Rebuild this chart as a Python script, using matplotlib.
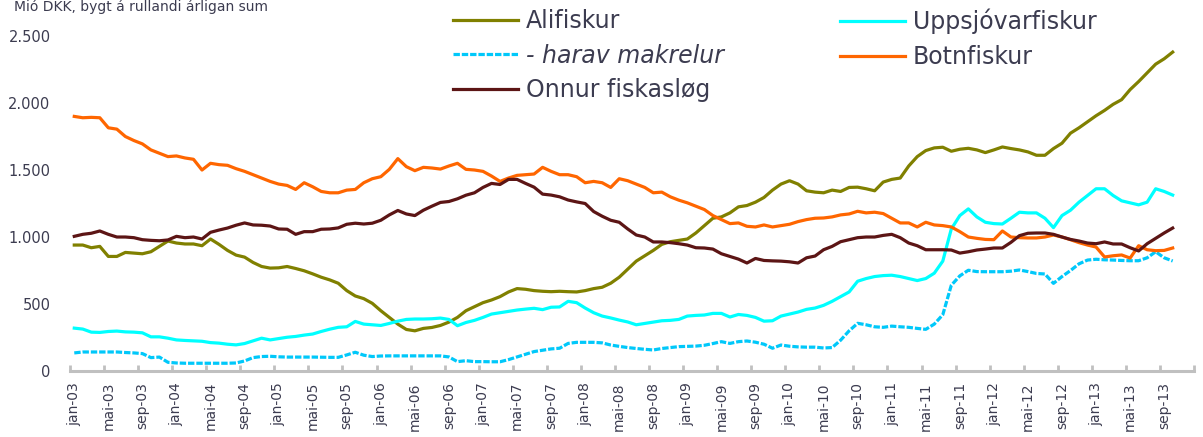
import matplotlib
matplotlib.use('Agg')
import matplotlib.pyplot as plt
from matplotlib.ticker import FixedLocator, FuncFormatter, NullFormatter
import numpy as np

# Monthly values, jan-03 .. okt-13 (Mió DKK, rolling annual sum)
months = ['jan', 'feb', 'mar', 'apr', 'mai', 'jun', 'jul', 'aug', 'sep', 'okt', 'nov', 'des']
years = list(range(3, 14))

alifiskur = [
    940, 940, 920, 930, 855, 855, 885, 880, 875, 890,
    930, 970, 955, 948, 948, 935, 985, 945, 900, 865,
    850, 810, 780, 768, 770, 780, 765, 748, 725, 700,
    680, 655, 600, 560, 540, 505, 450, 400, 350, 310,
    300, 318, 325, 340, 365, 400, 450, 480, 510, 530,
    555, 590, 615, 610, 600, 595, 592, 595, 592, 590,
    600, 615, 625, 655, 700, 760, 820, 860, 900, 945,
    965, 975, 985, 1030, 1085, 1140, 1150, 1180, 1225, 1235,
    1260, 1295, 1350, 1395, 1420, 1395, 1345, 1335, 1330, 1350,
    1340, 1370, 1372, 1360, 1345, 1410, 1430, 1440, 1530, 1600,
    1645, 1665, 1670, 1640, 1655, 1662, 1650, 1630, 1650, 1672,
    1660, 1650, 1635, 1610, 1610, 1660, 1700, 1775, 1815, 1860,
    1905, 1945, 1990, 2025, 2100, 2160, 2225, 2290, 2330, 2380,
]

uppsjovarfiskur = [
    320, 313, 290, 288, 295, 298, 292, 290, 285, 255,
    255, 245, 232, 228, 225, 222, 212, 208, 200, 195,
    205, 225, 245, 232, 242, 252, 258, 268, 276, 295,
    312, 326, 330, 370, 350, 345, 340, 355, 372, 385,
    388, 388, 390, 395, 385, 338, 362, 378, 400, 425,
    435, 445, 455, 462, 468, 458, 476, 478, 520, 510,
    470, 435, 410, 396, 380, 366, 345, 355, 365, 375,
    378, 385, 410, 415, 418, 430, 430, 403, 422, 415,
    400, 372, 375, 410, 425, 440, 460, 470, 490, 520,
    555, 590, 670, 690, 705, 712, 715, 705, 690, 675,
    690, 730, 820, 1060, 1160, 1210, 1150, 1110, 1100, 1097,
    1140, 1185, 1180, 1180, 1140, 1070, 1160, 1200, 1260, 1310,
    1360, 1360, 1310, 1270, 1255, 1240, 1260, 1360, 1340, 1313,
]

makrelur = [
    135, 142, 142, 142, 142, 142, 138, 135, 130, 100,
    104, 65, 60, 58, 58, 58, 58, 58, 58, 60,
    75, 100, 108, 110, 106, 104, 104, 104, 104, 103,
    102, 102, 120, 140, 118, 108, 112, 113, 113, 113,
    113, 113, 113, 113, 105, 70, 77, 70, 70, 69,
    69, 85, 105, 125, 145, 155, 165, 170, 206, 214,
    214, 214, 210, 194, 184, 175, 168, 162, 157, 168,
    175, 182, 184, 186, 192, 205, 219, 206, 219, 224,
    215, 200, 170, 194, 185, 180, 178, 178, 172, 175,
    230, 300, 356, 345, 330, 326, 335, 330, 326, 318,
    311, 350, 420, 640, 710, 752, 742, 741, 741, 741,
    745, 754, 742, 728, 724, 654, 705, 750, 800, 828,
    834, 830, 828, 825, 823, 823, 845, 890, 845, 821,
]

botnfiskur = [
    1900, 1890, 1893, 1890, 1815, 1805, 1750, 1720, 1695, 1650,
    1625, 1600, 1605, 1590, 1580, 1500, 1550, 1540, 1535, 1510,
    1490, 1465, 1440, 1415, 1395, 1385, 1355, 1405, 1375, 1340,
    1330, 1330, 1350, 1355, 1405, 1435, 1450, 1505, 1585, 1525,
    1495, 1520, 1515, 1507, 1530, 1550, 1505, 1500, 1490, 1455,
    1415, 1440, 1460, 1465, 1470, 1520, 1490, 1465, 1465, 1450,
    1405, 1415, 1405, 1370, 1435, 1420, 1395, 1370, 1330, 1335,
    1300, 1275, 1255, 1230, 1205, 1160, 1130, 1100, 1105, 1080,
    1075, 1090, 1075, 1085, 1095, 1115, 1130, 1140, 1142, 1150,
    1165, 1172, 1192, 1180, 1185, 1175, 1140, 1105, 1105, 1075,
    1110, 1090, 1085, 1075, 1040, 1000, 990, 982, 980, 1045,
    1000, 995, 993, 993, 1000, 1015, 1000, 980, 958, 940,
    925, 851, 860, 866, 843, 935, 905, 898, 900, 918,
]

onnur = [
    1005, 1020, 1028, 1045, 1020, 1000, 1000, 995, 980, 975,
    972, 978, 1005, 995, 1000, 985, 1035, 1052, 1067, 1088,
    1105, 1090, 1088, 1082, 1060, 1058, 1020, 1040, 1040, 1058,
    1060, 1068, 1095, 1103, 1097, 1103, 1125, 1165, 1198, 1172,
    1160, 1200, 1230, 1258, 1265, 1285, 1312, 1330, 1370, 1400,
    1392, 1430, 1430, 1400, 1372, 1320, 1313, 1300, 1276, 1262,
    1250, 1190, 1155, 1125, 1110, 1060, 1015, 1000, 963, 963,
    958, 950, 940, 920, 918, 910, 875, 855, 835, 806,
    840, 825, 822, 820, 815, 806, 845, 858, 905, 930,
    965, 980, 995, 1000, 1000, 1012, 1020, 995, 955, 935,
    905, 905, 905, 903, 880, 890, 903, 910, 918, 918,
    960, 1010, 1028, 1030, 1030, 1020, 1000, 982, 970, 955,
    950, 963, 948, 948, 920, 896, 950, 990, 1030, 1067,
]

month_labels = ['%s-%02d' % (m, y) for y in years for m in months]
n_cat = len(month_labels)  # axis runs jan-03 .. des-13
x = np.arange(len(alifiskur))

text_color = '#3c3c50'
plt.rcParams['font.family'] = ['DejaVu Sans']

fig = plt.figure(figsize=(12.03, 4.37), dpi=100)
ax = fig.add_axes([0.0582, 0.151, 0.9343, 0.7666])

lw = 2.3
l_ali, = ax.plot(x, alifiskur, color='#808000', lw=lw, label='Alifiskur')
l_upp, = ax.plot(x, uppsjovarfiskur, color='#00FFFF', lw=lw, label='Uppsjóvarfiskur')
l_mak, = ax.plot(x, makrelur, color='#00C8FA', lw=lw, ls=(0, (2, 0.6)), label='- harav makrelur')
l_bot, = ax.plot(x, botnfiskur, color='#FF6600', lw=lw, label='Botnfiskur')
l_onn, = ax.plot(x, onnur, color='#5C1515', lw=lw, label='Onnur fiskasløg')

ax.set_xlim(-0.5, n_cat - 0.5)
ax.set_ylim(0, 2500)

# category axis: tick marks between months, labels on every 4th month
ax.xaxis.set_major_locator(FixedLocator(np.arange(-0.5, n_cat, 4)))
ax.xaxis.set_major_formatter(NullFormatter())
ax.xaxis.set_minor_locator(FixedLocator(np.arange(0, len(x), 4)))
ax.xaxis.set_minor_formatter(FuncFormatter(lambda v, p: month_labels[int(round(v))]))
ax.tick_params(axis='x', which='major', direction='in', length=4, width=2, color='#c0c0c0')
ax.tick_params(axis='x', which='minor', length=0, pad=8, labelrotation=90,
               labelsize=10, labelcolor=text_color)

ax.set_yticks([0, 500, 1000, 1500, 2000, 2500])
ax.yaxis.set_major_formatter(FuncFormatter(lambda v, p: format(int(v), ',').replace(',', '.')))
ax.tick_params(axis='y', length=0, pad=14, labelsize=10.5, labelcolor=text_color)

for side in ['top', 'right', 'left']:
    ax.spines[side].set_visible(False)
ax.spines['bottom'].set_color('#c0c0c0')
ax.spines['bottom'].set_linewidth(2.2)

fig.text(0.0116, 0.985, 'Mió DKK, bygt á rullandi árligan sum', fontsize=10,
         color=text_color, va='center', ha='left')

leg_kw = dict(frameon=False, fontsize=17, handlelength=2.75, handletextpad=0.33,
              labelspacing=0.45, borderpad=0, borderaxespad=0, labelcolor=text_color,
              loc='upper left', bbox_transform=fig.transFigure)
leg1 = fig.legend([l_ali, l_mak, l_onn], ['Alifiskur', '- harav makrelur', 'Onnur fiskasløg'],
                  bbox_to_anchor=(453 / 1203, 1 - 9 / 437), **leg_kw)
leg1.get_texts()[1].set_fontstyle('italic')
fig.legend([l_upp, l_bot], ['Uppsjóvarfiskur', 'Botnfiskur'],
           bbox_to_anchor=(840 / 1203, 1 - 9 / 437), **leg_kw)

fig.savefig('out.png', dpi=100)
